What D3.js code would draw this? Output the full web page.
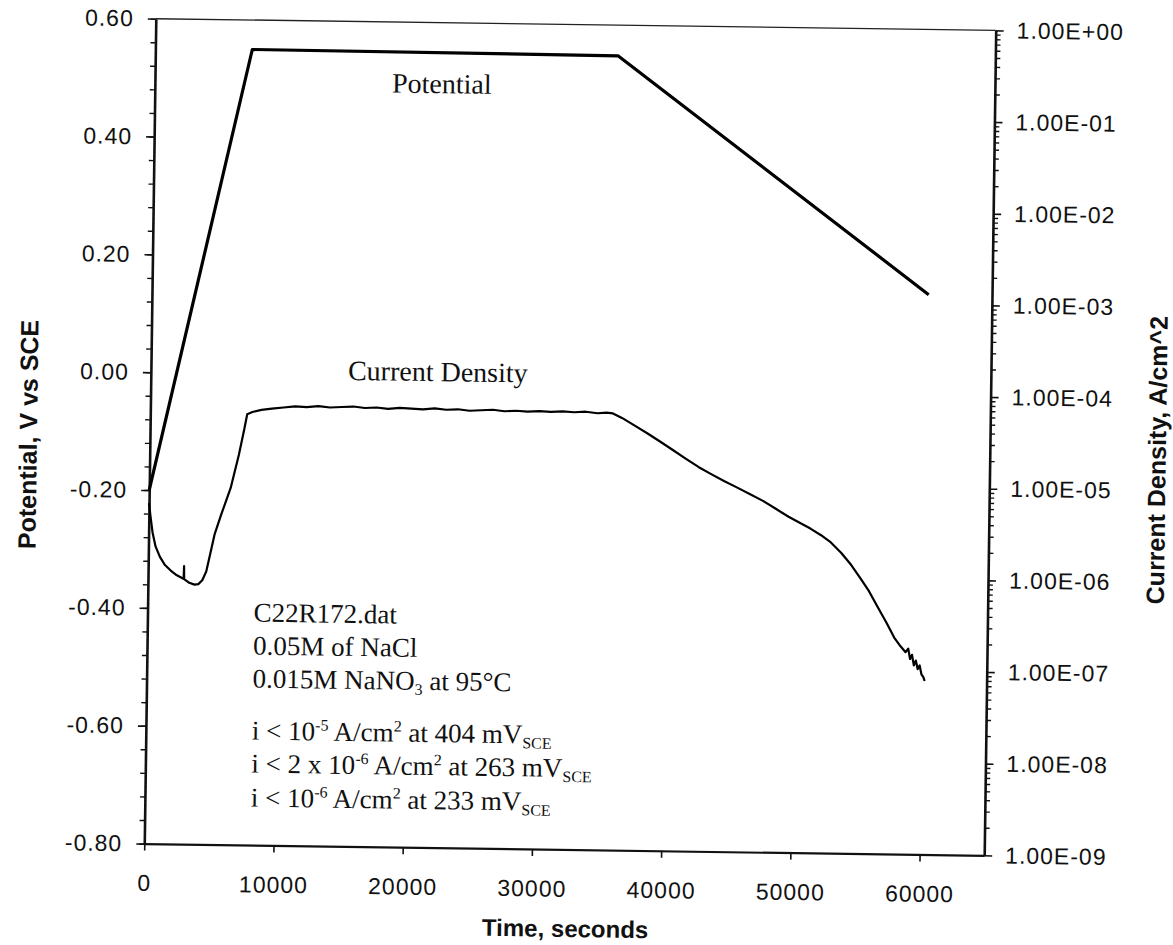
<!DOCTYPE html>
<html>
<head>
<meta charset="utf-8">
<script src="https://cdn.jsdelivr.net/npm/d3@7"></script>
<style>
  body { margin: 0; background: #fff; }
  svg { display: block; }
</style>
</head>
<body>
<svg id="chart" width="1173" height="945"></svg>
<script>
// ---- Axis ticks and labels ----
const timeTicks = [0, 10000, 20000, 30000, 40000, 50000, 60000];
const potentialTicks = [0.6, 0.4, 0.2, 0, -0.2, -0.4, -0.6, -0.8];
const potentialLabels = ["0.60", "0.40", "0.20", "0.00", "-0.20", "-0.40", "-0.60", "-0.80"];
const currentTicks = [1, 1e-1, 1e-2, 1e-3, 1e-4, 1e-5, 1e-6, 1e-7, 1e-8, 1e-9];
const currentLabels = ["1.00E+00", "1.00E-01", "1.00E-02", "1.00E-03", "1.00E-04",
                       "1.00E-05", "1.00E-06", "1.00E-07", "1.00E-08", "1.00E-09"];

// ---- Applied potential (V vs SCE) ----
const potentialTime  = [0, 7500, 35800, 60100];
const potentialValue = [-0.20, 0.55, 0.548, 0.15];

// ---- Measured current density (A/cm^2) ----
const currentTime = [
  0, 120, 300, 550, 900, 1300, 1750, 2200, 2700, 2760, 2780, 2800, 3200, 3600, 3900,
  4200, 4500, 4800, 5100, 5600, 6300, 6900, 7300, 7500, 7900, 8600, 9400, 10300,
  11200, 12100, 13000, 13900, 14800, 15700, 16600, 17500, 18400, 19300, 20200,
  21100, 22000, 22900, 23800, 24700, 25600, 26500, 27400, 28300, 29200, 30100,
  31000, 31900, 32800, 33700, 34600, 35300, 35800, 36500, 37500, 38500, 39500,
  40500, 41500, 42500, 43500, 44500, 45500, 46500, 47500, 48500, 49500, 50400,
  51200, 52000, 52800, 53600, 54400, 55100, 55800, 56500, 57200, 57800, 58300,
  58700, 58900, 59050, 59200, 59350, 59500, 59650, 59800, 59950, 60100, 60200
];
const currentDensity = [
  5.2e-6, 3.8e-6, 2.5e-6, 1.75e-6, 1.35e-6, 1.1e-6, 9.6e-7, 8.6e-7, 7.9e-7, 8.2e-7, 1.08e-6, 7.8e-7, 7.1e-7, 6.8e-7, 6.9e-7,
  7.6e-7, 9.5e-7, 1.5e-6, 2.4e-6, 4.0e-6, 7.8e-6, 1.8e-5, 3.5e-5, 5.0e-5, 5.3e-5, 5.6e-5, 5.8e-5, 6.0e-5,
  6.2e-5, 6.1e-5, 6.3e-5, 6.1e-5, 6.2e-5, 6.3e-5, 6.1e-5, 6.2e-5, 6.0e-5, 6.2e-5, 6.1e-5,
  6.0e-5, 6.2e-5, 6.0e-5, 6.1e-5, 5.9e-5, 6.0e-5, 6.1e-5, 5.9e-5, 6.0e-5, 5.9e-5, 6.0e-5,
  5.9e-5, 6.0e-5, 5.9e-5, 6.0e-5, 5.8e-5, 5.9e-5, 5.8e-5, 5.2e-5, 4.3e-5, 3.55e-5, 2.9e-5,
  2.35e-5, 1.9e-5, 1.55e-5, 1.3e-5, 1.1e-5, 9.4e-6, 8.0e-6, 6.8e-6, 5.6e-6, 4.6e-6, 3.95e-6,
  3.45e-6, 2.95e-6, 2.45e-6, 1.9e-6, 1.4e-6, 1.02e-6, 7.3e-7, 4.9e-7, 3.3e-7, 2.3e-7, 1.85e-7,
  1.6e-7, 1.75e-7, 1.35e-7, 1.5e-7, 1.15e-7, 1.3e-7, 1.05e-7, 1.15e-7, 9.2e-8, 8.6e-8, 7.8e-8
];

// ---- Layout ----
const plot = { left: 150, right: 990, top: 24.5, bottom: 849.5 };
const tickFont = "'Liberation Sans', Arial, sans-serif";
const serifFont = "'Liberation Serif', 'Times New Roman', serif";

const x = d3.scaleLinear().domain([0, 65000]).range([plot.left, plot.right]);
const yPot = d3.scaleLinear().domain([-0.8, 0.6]).range([plot.bottom, plot.top]);
const yCur = d3.scaleLog().domain([1e-9, 1]).range([plot.bottom, plot.top]);

const svg = d3.select("#chart");
svg.append("rect").attr("width", 1173).attr("height", 945).attr("fill", "#fff");

// the printed sheet sits slightly askew
const g = svg.append("g").attr("transform", "rotate(0.8,570,437)");

function styleAxis(sel, width) {
  sel.select(".domain").attr("stroke", "#111").attr("stroke-width", width);
  sel.selectAll(".tick line").attr("stroke", "#111").attr("stroke-width", 1.6);
  sel.selectAll(".tick text")
    .attr("fill", "#111")
    .style("font-family", tickFont)
    .style("font-size", "23px")
    .style("letter-spacing", "1px");
}

// top border of the frame
g.append("line")
  .attr("x1", plot.left).attr("x2", plot.right)
  .attr("y1", plot.top).attr("y2", plot.top)
  .attr("stroke", "#222").attr("stroke-width", 1.4);

// left axis: potential
const minorPot = d3.range(-80, 61, 4).map(v => v / 100);
g.append("g").attr("transform", `translate(${plot.left},0)`)
  .call(d3.axisLeft(yPot).tickValues(minorPot).tickSize(5).tickFormat(""))
  .call(s => { s.select(".domain").remove(); s.selectAll(".tick line").attr("stroke", "#111").attr("stroke-width", 1.4); });
g.append("g").attr("transform", `translate(${plot.left},0)`)
  .call(d3.axisLeft(yPot).tickValues(potentialTicks)
    .tickFormat(d => potentialLabels[potentialTicks.indexOf(d)])
    .tickSize(8).tickPadding(14).tickSizeOuter(0))
  .call(s => styleAxis(s, 2.6));

// right axis: current density (log)
const minorCur = [];
currentTicks.slice(1).forEach(dec => { for (let m = 2; m <= 9; m++) minorCur.push(dec * m); });
g.append("g").attr("transform", `translate(${plot.right},0)`)
  .call(d3.axisRight(yCur).tickValues(minorCur).tickSize(5).tickFormat(""))
  .call(s => { s.select(".domain").remove(); s.selectAll(".tick line").attr("stroke", "#111").attr("stroke-width", 1.4); });
g.append("g").attr("transform", `translate(${plot.right},0)`)
  .call(d3.axisRight(yCur).tickValues(currentTicks)
    .tickFormat(d => currentLabels[currentTicks.indexOf(d)])
    .tickSize(8).tickPadding(13).tickSizeOuter(0))
  .call(s => styleAxis(s, 2.6));

// bottom axis: time
g.append("g").attr("transform", `translate(0,${plot.bottom})`)
  .call(d3.axisBottom(x).tickValues(timeTicks).tickFormat(d3.format("d"))
    .tickSize(7).tickPadding(24).tickSizeOuter(0))
  .call(s => styleAxis(s, 2.2));

// axis titles
const titleStyle = (s, size) => s.attr("fill", "#111")
  .style("font-family", tickFont).style("font-weight", "bold").style("font-size", size + "px")
  .attr("text-anchor", "middle");
g.append("text").attr("transform", "translate(37,442) rotate(-90)")
  .text("Potential, V vs SCE").call(titleStyle, 25);
g.append("text").attr("transform", "translate(1166,452) rotate(-90)")
  .text("Current Density, A/cm^2").call(titleStyle, 25);
g.append("text").attr("x", 572).attr("y", 937)
  .text("Time, seconds").call(titleStyle, 24);

// data lines
const potentialData = potentialTime.map((t, i) => ({ t, v: potentialValue[i] }));
const currentData = currentTime.map((t, i) => ({ t, i: currentDensity[i] }));

g.append("path").datum(potentialData)
  .attr("fill", "none").attr("stroke", "#000").attr("stroke-width", 3.2)
  .attr("stroke-linejoin", "round")
  .attr("d", d3.line().x(d => x(d.t)).y(d => yPot(d.v)));

g.append("path").datum(currentData)
  .attr("fill", "none").attr("stroke", "#000").attr("stroke-width", 2.2)
  .attr("stroke-linejoin", "round")
  .attr("d", d3.line().x(d => x(d.t)).y(d => yCur(d.i)));

// curve labels
const serif = (s, size) => s.attr("fill", "#111").style("font-family", serifFont).style("font-size", size + "px");
g.append("text").attr("x", 437).attr("y", 95).attr("text-anchor", "middle").text("Potential").call(serif, 28);
g.append("text").attr("x", 437).attr("y", 383).attr("text-anchor", "middle").text("Current Density").call(serif, 28);

// test conditions block: plain runs, superscripts and subscripts
function richLine(y, parts) {
  const t = g.append("text").attr("x", 256).attr("y", y).call(serif, 27);
  let offset = 0;
  parts.forEach(p => {
    let target = 0, str = p, small = false;
    if (typeof p !== "string") {
      small = true;
      if (p.sup) { target = -10; str = p.sup; }
      else { target = 5; str = p.sub; }
    }
    const span = t.append("tspan").attr("dy", target - offset).text(str);
    if (small) span.style("font-size", "16px");
    offset = target;
  });
}
richLine(626, ["C22R172.dat"]);
richLine(659, ["0.05M of NaCl"]);
richLine(692, ["0.015M NaNO", { sub: "3" }, " at 95°C"]);
richLine(744, ["i < 10", { sup: "-5" }, " A/cm", { sup: "2" }, " at 404 mV", { sub: "SCE" }]);
richLine(777, ["i < 2 x 10", { sup: "-6" }, " A/cm", { sup: "2" }, " at 263 mV", { sub: "SCE" }]);
richLine(811, ["i < 10", { sup: "-6" }, " A/cm", { sup: "2" }, " at 233 mV", { sub: "SCE" }]);
</script>
</body>
</html>
